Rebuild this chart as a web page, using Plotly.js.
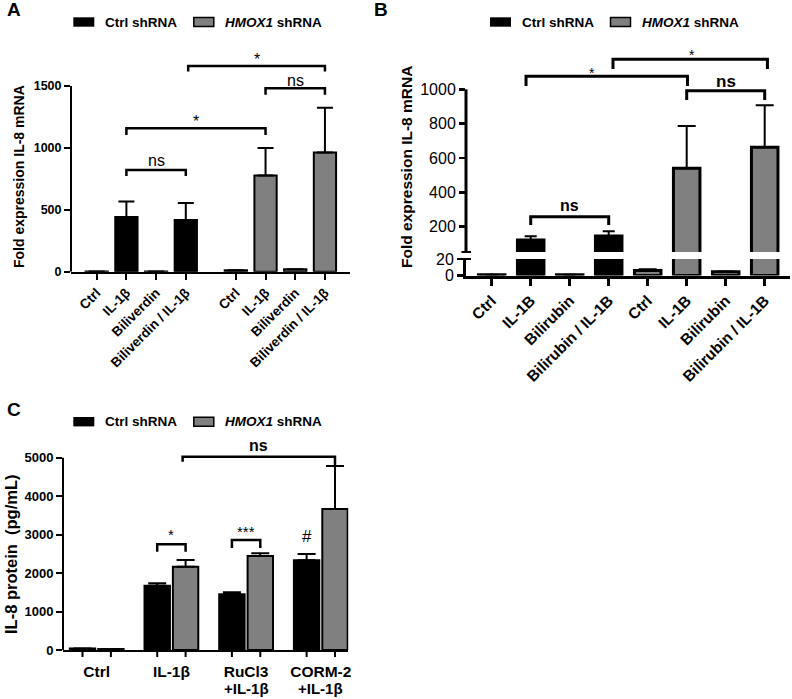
<!DOCTYPE html>
<html><head><meta charset="utf-8">
<script src="https://cdn.plot.ly/plotly-3.0.1.min.js"></script>
<style>html,body{margin:0;padding:0;background:#fff}#chart{width:792px;height:699px}</style>
</head><body><div id="chart"></div>
<script>
// ---------------- DATA ----------------
const seriesNames = ['Ctrl shRNA', 'HMOX1 shRNA'];

const labelsA = ['Ctrl', 'IL-1β', 'Biliverdin', 'Biliverdin / IL-1β'];
const ctrlA    = [1, 441, 1, 417];
const ctrlAErr = [0, 126, 0, 137];
const hmoxA    = [12, 777, 20, 962];
const hmoxAErr = [0, 223, 0, 363];

const labelsB = ['Ctrl', 'IL-1B', 'Bilirubin', 'Bilirubin / IL-1B'];
const ctrlB    = [1, 122, 1, 146];
const ctrlBErr = [0, 22, 0, 27];
const hmoxB    = [6, 540, 4.5, 662];
const hmoxBErr = [1.5, 246, 0.5, 245];

const labelsC = ['Ctrl', 'IL-1β', 'RuCl3<br>+IL-1β', 'CORM-2<br>+IL-1β'];
const ctrlC    = [40, 1673, 1449, 2333];
const ctrlCErr = [0, 61, 51, 164];
const hmoxC    = [25, 2167, 2445, 3667];
const hmoxCErr = [0, 174, 70, 1118];

// ---------------- LAYOUT HELPERS ----------------
const W = 792, H = 699;
const FONT = 'Liberation Sans, Arial, sans-serif';
const BLACK = '#000000', GRAY = '#808080';
const px = x => x / W, py = y => (H - y) / H;
function xr(pxL, pxR, px0, unit) {
  return {domain: [px(pxL), px(pxR)], range: [(pxL - px0) / unit, (pxR - px0) / unit]};
}
function yr(pxB, pxT, px0, v0, ppu) {
  return {domain: [py(pxB), py(pxT)], range: [v0 + (px0 - pxB) / ppu, v0 + (px0 - pxT) / ppu]};
}
const zeros = a => a.map(() => 0);

// category positions
const GAP_A = 0.685;
const posA1 = labelsA.map((_, i) => i);
const posA2 = labelsA.map((_, i) => i + labelsA.length + GAP_A);
const posB1 = labelsB.map((_, i) => i);
const posB2 = labelsB.map((_, i) => i + labelsB.length);
const OFF_C = 0.19;
const groupC = labelsC.map((_, i) => i);
const posC1 = groupC.map(g => g - OFF_C);
const posC2 = groupC.map(g => g + OFF_C);
const linesC = labelsC.map(s => s.split('<br>'));

function barTrace(x, y, err, color, xa, ya, width, lw, capw, name) {
  return {
    type: 'bar', x: x, y: y, xaxis: xa, yaxis: ya, width: width, name: name,
    marker: {color: color, line: {color: BLACK, width: lw}},
    error_y: {type: 'data', symmetric: false, array: err, arrayminus: zeros(err),
              color: BLACK, thickness: 2, width: capw},
    hoverinfo: 'skip', showlegend: false
  };
}

const traces = [
  barTrace(posA1, ctrlA, ctrlAErr, BLACK, 'x', 'y', 0.75, 2, 8, seriesNames[0]),
  barTrace(posA2, hmoxA, hmoxAErr, GRAY, 'x', 'y', 0.75, 2, 8, seriesNames[1]),
  barTrace(posB1, ctrlB, ctrlBErr, BLACK, 'x2', 'y2', 0.68, 3, 6, seriesNames[0]),
  barTrace(posB2, hmoxB, hmoxBErr, GRAY, 'x2', 'y2', 0.68, 3, 9, seriesNames[1]),
  barTrace(posB1, ctrlB, ctrlBErr, BLACK, 'x2', 'y3', 0.68, 3, 6, seriesNames[0]),
  barTrace(posB2, hmoxB, hmoxBErr, GRAY, 'x2', 'y3', 0.68, 3, 9, seriesNames[1]),
  barTrace(posC1, ctrlC, ctrlCErr, BLACK, 'x3', 'y4', 0.34, 2, 9, seriesNames[0]),
  barTrace(posC2, hmoxC, hmoxCErr, GRAY, 'x3', 'y4', 0.34, 2, 9, seriesNames[1])
];

const baseAx = {showgrid: false, zeroline: false, automargin: false, fixedrange: true,
                ticks: 'outside', tickcolor: BLACK, linecolor: BLACK};
const tf = (size, weight) => ({family: FONT, size: size, color: BLACK, weight: weight});

const yA = yr(271.7, 40, 271.7, 0, 185.7 / 1500);
const yBlo = yr(275.5, 259, 275.5, 0, 16.5 / 20);
const yBup = yr(252, 40, 226.7, 200, 34.35 / 200);
const yC = yr(650, 435, 650, 0, 192.3 / 5000);

const layout = {
  width: W, height: H, margin: {l: 0, r: 0, t: 0, b: 0},
  paper_bgcolor: '#fff', plot_bgcolor: 'rgba(0,0,0,0)',
  barmode: 'overlay', showlegend: false,
  font: {family: FONT, color: BLACK},
  xaxis: Object.assign({}, baseAx, xr(71, 350, 96.7, 29.7), {
    anchor: 'y', tickvals: posA1.concat(posA2), ticktext: labelsA.concat(labelsA),
    tickangle: -45, ticklen: 6, tickwidth: 2, showline: true, linewidth: 2,
    tickfont: tf(13.5, 'bold')}),
  yaxis: Object.assign({}, baseAx, yA, {
    anchor: 'x', tickvals: [0, 500, 1000, 1500], ticklen: 6, tickwidth: 2, showline: false,
    tickfont: tf(12.5, 'bold')}),
  xaxis2: Object.assign({}, baseAx, xr(466, 790, 491.7, 39), {
    anchor: 'y2', tickvals: posB1.concat(posB2), ticktext: labelsB.concat(labelsB),
    tickangle: -45, ticklen: 7, tickwidth: 2.5, showline: true, linewidth: 3,
    tickfont: tf(15.5, 'bold')}),
  yaxis2: Object.assign({}, baseAx, yBlo, {
    anchor: 'x2', tickvals: [0, 20], ticklen: 6, tickwidth: 2.5, showline: true, linewidth: 3,
    tickfont: tf(16, 'normal')}),
  yaxis3: Object.assign({}, baseAx, yBup, {
    anchor: 'x2', tickvals: [200, 400, 600, 800, 1000], ticklen: 6, tickwidth: 2.5, showline: false,
    tickfont: tf(16, 'normal')}),
  xaxis3: Object.assign({}, baseAx, xr(63, 348.3, 96.7, 74.7), {
    anchor: 'y4', tickvals: groupC, ticktext: linesC.map(l => l[0]), ticklen: 6, tickcolor: 'rgba(0,0,0,0)',
    showline: true, linewidth: 2, tickfont: tf(15.5, 'bold')}),
  yaxis4: Object.assign({}, baseAx, yC, {
    anchor: 'x3', tickvals: [0, 1000, 2000, 3000, 4000, 5000], ticklen: 6, tickwidth: 2, showline: false,
    tickfont: tf(13, 'bold')})
};

// ---------------- SHAPES ----------------
const shapes = [];
// y axis lines (stop at top tick)
shapes.push({type: 'line', xref: 'paper', yref: 'y', x0: layout.xaxis.domain[0], x1: layout.xaxis.domain[0],
             y0: 0, y1: 1500, line: {color: BLACK, width: 2}});
shapes.push({type: 'line', xref: 'paper', yref: 'y3', x0: layout.xaxis2.domain[0], x1: layout.xaxis2.domain[0],
             y0: yBup.range[0], y1: 1000, line: {color: BLACK, width: 3}});
shapes.push({type: 'line', xref: 'paper', yref: 'y4', x0: layout.xaxis3.domain[0], x1: layout.xaxis3.domain[0],
             y0: 0, y1: 5000, line: {color: BLACK, width: 2}});
// axis break marks (panel B)
[252, 259].forEach(yy => shapes.push({type: 'line', xref: 'paper', yref: 'paper',
  x0: px(461.5), x1: px(471), y0: py(yy), y1: py(yy), line: {color: BLACK, width: 2}}));
// bar-centre tick marks (panel C)
posC1.concat(posC2).forEach(x => shapes.push({type: 'line', xref: 'x3', yref: 'paper',
  x0: x, x1: x, y0: py(650), y1: py(657), line: {color: BLACK, width: 2}}));

// significance brackets
function bracket(xa, ya, x0, x1, yTop, yL, yR, w) {
  shapes.push({type: 'path', xref: xa, yref: ya,
    path: `M${x0},${yL} L${x0},${yTop} L${x1},${yTop} L${x1},${yR}`,
    line: {color: BLACK, width: w}});
}
const annotations = [];
function label(xa, ya, x, y, text, size, weight) {
  annotations.push({xref: xa, yref: ya, x: x, y: y, text: text, showarrow: false,
    xanchor: 'center', yanchor: 'middle', font: {family: FONT, size: size, color: BLACK, weight: weight}});
}
// Panel A
bracket('x', 'y', posA1[1], posA1[3], 821, 773, 773, 2.5);
label('x', 'y', (posA1[1] + posA1[3]) / 2, 902, 'ns', 16, 'normal');
bracket('x', 'y', posA1[1], posA2[1], 1158, 1104, 1104, 2.5);
label('x', 'y', (posA1[1] + posA2[1]) / 2, 1217, '*', 16, 'normal');
bracket('x', 'y', posA2[1], posA2[3], 1481, 1430, 1430, 2.5);
label('x', 'y', (posA2[1] + posA2[3]) / 2, 1548, 'ns', 16, 'normal');
bracket('x', 'y', posA1[3] + 0.08, posA2[3], 1661, 1617, 1617, 2.5);
label('x', 'y', (posA1[3] + 0.08 + posA2[3]) / 2, 1718, '*', 16, 'normal');
// Panel B
bracket('x2', 'y3', posB1[1], posB1[3], 258, 210, 210, 3);
label('x2', 'y3', (posB1[1] + posB1[3]) / 2, 326, 'ns', 16, 'bold');
bracket('x2', 'y3', posB1[1] - 0.12, posB2[1] + 0.02, 1076, 1019, 1019, 3);
label('x2', 'y3', 2.57, 1097, '*', 14, 'normal');
bracket('x2', 'y3', posB2[1], posB2[3], 992, 938, 938, 3);
label('x2', 'y3', (posB2[1] + posB2[3]) / 2, 1044, 'ns', 17, 'bold');
bracket('x2', 'y3', posB1[3] + 0.11, posB2[3] + 0.07, 1175, 1118, 1118, 3);
label('x2', 'y3', 5.13, 1202, '*', 14, 'normal');
// Panel C
bracket('x3', 'y4', posC1[1], posC2[1], 2748, 2556, 2556, 2.5);
label('x3', 'y4', groupC[1], 2998, '*', 15, 'normal');
bracket('x3', 'y4', posC1[2], posC2[2], 2860, 2652, 2652, 2.5);
label('x3', 'y4', groupC[2], 3094, '***', 15, 'normal');
label('x3', 'y4', posC1[3], 2946, '#', 17, 'normal');
bracket('x3', 'y4', posC2[1] - 0.04, posC2[3], 5026, 4896, 4810, 2.5);
label('x3', 'y4', (posC2[1] - 0.04 + posC2[3]) / 2, 5330, 'ns', 16, 'bold');
// second lines of the panel C category labels (tight line spacing)
linesC.forEach((l, i) => {
  if (l.length > 1) annotations.push({xref: 'x3', yref: 'paper', x: groupC[i], y: py(688),
    xanchor: 'center', yanchor: 'middle', text: l[1], showarrow: false, borderpad: 0,
    font: {family: FONT, size: 15, color: BLACK, weight: 'bold'}});
});

// legends (drawn)
function legend(x0, yc) {
  shapes.push({type: 'rect', xref: 'paper', yref: 'paper', x0: px(x0), x1: px(x0 + 21),
    y0: py(yc + 4.7), y1: py(yc - 4.7), fillcolor: BLACK, line: {width: 0}});
  shapes.push({type: 'rect', xref: 'paper', yref: 'paper', x0: px(x0 + 120.5), x1: px(x0 + 140.5),
    y0: py(yc + 4.5), y1: py(yc - 4.5), fillcolor: GRAY, line: {color: BLACK, width: 1.5}});
  annotations.push({xref: 'paper', yref: 'paper', x: px(x0 + 30), y: py(yc), xanchor: 'left', yanchor: 'middle',
    text: seriesNames[0], showarrow: false, font: {family: FONT, size: 13.5, color: BLACK, weight: 'bold'}});
  annotations.push({xref: 'paper', yref: 'paper', x: px(x0 + 150), y: py(yc), xanchor: 'left', yanchor: 'middle',
    text: '<i>HMOX1</i> shRNA', showarrow: false, font: {family: FONT, size: 13.5, color: BLACK, weight: 'bold'}});
}
legend(73.3, 22);
legend(490, 22);
legend(73.3, 421.7);

// panel letters
function paperText(x, y, text, size, weight, angle) {
  annotations.push({xref: 'paper', yref: 'paper', x: px(x), y: py(y), xanchor: 'center', yanchor: 'middle',
    text: text, showarrow: false, textangle: angle || 0,
    font: {family: FONT, size: size, color: BLACK, weight: weight}});
}
paperText(14, 10, 'A', 19, 'bold');
paperText(381, 10, 'B', 19, 'bold');
paperText(14, 410, 'C', 19, 'bold');
// y axis titles
paperText(19, 177, 'Fold expression IL-8 mRNA', 14, 'bold', -90);
paperText(406, 167, 'Fold expression IL-8 mRNA', 15.5, 'bold', -90);
paperText(11, 555, 'IL-8 protein\u00a0 (pg/mL)', 16.5, 'bold', -90);

layout.shapes = shapes;
layout.annotations = annotations;

Plotly.newPlot('chart', traces, layout, {staticPlot: true, displayModeBar: false});
</script></body></html>
